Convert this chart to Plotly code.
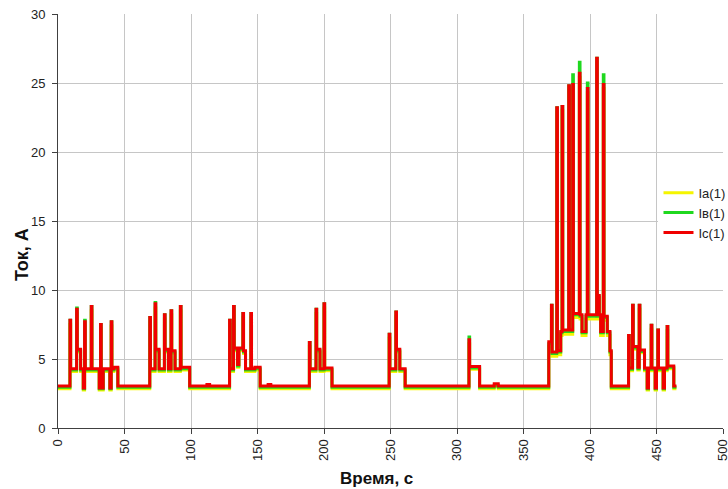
import plotly.graph_objects as go

# Time stamps (s) where the phase currents change level; each value holds until the next stamp
time_s = [
    0, 9, 9.5, 14, 14.5, 17, 19, 20, 20.5, 25, 25.5, 31, 32, 32.5, 34, 39, 40, 40.5, 42, 45,
    69, 69.5, 73, 73.5, 76, 80, 80.5, 83, 85, 85.5, 88, 92, 92.5, 99,
    112, 114,
    129, 129.5, 132, 132.5, 135, 136, 139, 139.5, 141, 145, 145.5, 148, 152,
    158, 160,
    189, 189.5, 194, 194.5, 197, 200, 200.5, 206,
    249, 249.5, 254, 254.5, 257, 261,
    309, 309.5, 317, 328, 331,
    369, 371, 371.5, 375, 375.5, 378, 379, 379.5, 384, 384.5, 387, 387.5, 392, 392.5, 394,
    397, 398, 398.5, 405, 405.5, 407, 408, 410, 410.5, 413, 415, 416,
    429, 429.5, 432, 432.5, 436, 437, 437.5, 441, 443, 444, 446, 446.5, 449, 450, 451,
    451.5, 455, 456, 458, 458.5, 463, 465,
]

# Phase A current, A
current_a = [
    2.85, 7.5, 4.1, 8.3, 5.5, 4.1, 2.75, 7.4, 4.1, 8.5, 4.1, 2.75, 7.2, 2.75, 4.1, 2.75, 7.4, 4.1, 4.2, 2.85,
    7.7, 4.1, 8.7, 5.5, 4.1, 7.9, 5.5, 4.1, 8.2, 5.4, 4.1, 8.5, 4.2, 2.85,
    2.95, 2.85,
    7.5, 4.1, 8.5, 5.6, 4.4, 5.6, 8.0, 5.4, 4.1, 8.0, 4.1, 4.2, 2.85,
    2.95, 2.85,
    5.9, 4.1, 8.3, 5.5, 4.1, 8.7, 4.15, 2.85,
    6.5, 4.1, 8.1, 5.5, 4.1, 2.85,
    6.1, 4.25, 2.85, 3.0, 2.85,
    5.9, 8.6, 5.2, 22.9, 5.3, 6.7, 23.0, 6.8, 24.5, 6.8, 24.6, 8.0, 25.4, 7.9, 6.7,
    7.9, 24.3, 7.9, 26.5, 9.3, 7.9, 6.7, 24.6, 7.8, 6.7, 5.3, 2.85,
    6.4, 4.15, 8.6, 5.7, 4.2, 8.6, 5.45, 4.15, 2.75, 4.15, 7.15, 4.15, 2.75, 4.15, 6.8,
    4.15, 2.75, 4.15, 7.05, 4.3, 2.85, 2.85,
]

# Phase B current, A
current_b = [
    2.95, 7.8, 4.2, 8.7, 5.6, 4.2, 2.85, 7.8, 4.2, 8.8, 4.2, 2.85, 7.5, 2.85, 4.2, 2.85, 7.7, 4.2, 4.3, 2.95,
    8.0, 4.2, 9.1, 5.6, 4.2, 8.2, 5.6, 4.2, 8.5, 5.5, 4.2, 8.8, 4.3, 2.95,
    3.05, 2.95,
    7.8, 4.2, 8.8, 5.7, 4.5, 5.7, 8.3, 5.5, 4.2, 8.3, 4.2, 4.3, 2.95,
    3.05, 2.95,
    6.2, 4.2, 8.6, 5.6, 4.2, 9.0, 4.25, 2.95,
    6.8, 4.2, 8.4, 5.6, 4.2, 2.95,
    6.6, 4.35, 2.95, 3.1, 2.95,
    6.1, 8.9, 5.4, 23.2, 5.5, 6.9, 23.3, 7.0, 24.8, 7.0, 25.6, 8.2, 26.5, 8.1, 6.9,
    8.1, 25.0, 8.1, 26.8, 9.5, 8.1, 6.9, 25.6, 8.0, 6.9, 5.5, 2.95,
    6.7, 4.25, 8.9, 5.8, 4.3, 8.9, 5.55, 4.25, 2.85, 4.25, 7.45, 4.25, 2.85, 4.25, 7.1,
    4.25, 2.85, 4.25, 7.35, 4.4, 2.95, 2.95,
]

# Phase C current, A
current_c = [
    3.05, 7.8, 4.3, 8.6, 5.7, 4.3, 2.9, 7.7, 4.3, 8.8, 4.3, 2.9, 7.5, 2.9, 4.3, 2.9, 7.7, 4.3, 4.4, 3.05,
    8.0, 4.3, 9.0, 5.7, 4.3, 8.2, 5.7, 4.3, 8.5, 5.6, 4.3, 8.8, 4.4, 3.05,
    3.15, 3.05,
    7.8, 4.3, 8.8, 5.8, 4.6, 5.8, 8.3, 5.6, 4.3, 8.3, 4.3, 4.4, 3.05,
    3.15, 3.05,
    6.2, 4.3, 8.6, 5.7, 4.3, 9.0, 4.35, 3.05,
    6.8, 4.3, 8.4, 5.7, 4.3, 3.05,
    6.4, 4.45, 3.05, 3.2, 3.05,
    6.25, 8.9, 5.5, 23.2, 5.6, 7.0, 23.3, 7.1, 24.8, 7.1, 24.9, 8.3, 25.7, 8.2, 7.0,
    8.2, 24.6, 8.2, 26.8, 9.6, 8.2, 7.0, 24.9, 8.1, 7.0, 5.6, 3.05,
    6.7, 4.35, 8.9, 5.9, 4.4, 8.9, 5.65, 4.35, 2.9, 4.35, 7.45, 4.35, 2.9, 4.35, 7.1,
    4.35, 2.9, 4.35, 7.35, 4.5, 3.05, 3.05,
]

series = [
    ("Iа(1)", current_a, "#f5f500"),
    ("Iв(1)", current_b, "#1fd81f"),
    ("Iс(1)", current_c, "#f00000"),
]

FONT = "Liberation Sans, Arial, sans-serif"

fig = go.Figure()
for name, values, color in series:
    fig.add_trace(go.Scatter(
        x=time_s, y=values, name=name, mode="lines",
        line=dict(color=color, width=3, shape="hv"),
    ))

axis_common = dict(
    showgrid=True, gridcolor="#c6c6c6", gridwidth=1,
    showline=True, linecolor="#404040", linewidth=1,
    ticks="outside", ticklen=5, tickcolor="#404040",
    tickfont=dict(family=FONT, size=13, color="#222"),
    zeroline=False, automargin=False,
)

fig.update_xaxes(range=[0, 500], dtick=50, tickangle=-90,
                 ticklabeloverflow="allow", **axis_common)
fig.update_yaxes(range=[0, 30], dtick=5, ticklabelstandoff=4, **axis_common)

fig.update_layout(
    width=728, height=489,
    margin=dict(l=58, r=5, t=14, b=61, autoexpand=False),
    plot_bgcolor="white", paper_bgcolor="white",
    showlegend=True,
    legend=dict(
        x=0.903, y=0.52, xanchor="left", yanchor="middle",
        bgcolor="white", borderwidth=0,
        font=dict(family=FONT, size=13, color="#222"),
        tracegroupgap=0, itemwidth=30,
    ),
    annotations=[
        dict(text="<b>Время, с</b>", xref="paper", yref="paper",
             x=(376 - 58) / 665, y=-(478 - 428) / 414,
             xanchor="center", yanchor="middle", showarrow=False,
             font=dict(family=FONT, size=17, color="#111")),
        dict(text="<b>Ток, А</b>", xref="paper", yref="paper",
             x=-(58 - 22) / 665, y=(428 - 255) / 414,
             xanchor="center", yanchor="middle", showarrow=False,
             textangle=-90,
             font=dict(family=FONT, size=18, color="#111")),
    ],
)

fig.write_html("out.html")
